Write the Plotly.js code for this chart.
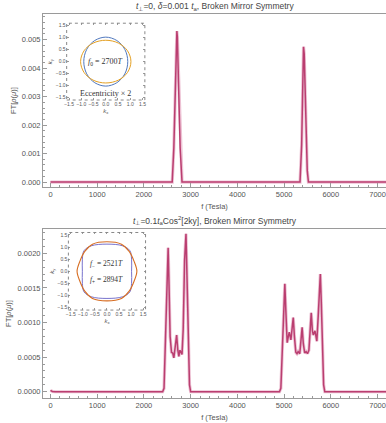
<!DOCTYPE html>
<html>
<head>
<meta charset="utf-8">
<script src="https://cdn.plot.ly/plotly-3.0.1.min.js"></script>
<style>
  body { margin: 0; background: #fff; }
  #chart { width: 386px; height: 423px; }
</style>
</head>
<body>
<div id="chart"></div>
<script>
// top panel: t_perp = 0 spectrum
var fTop = [0, 100, 2560, 2605, 2640, 2675, 2695, 2705, 2715, 2740, 2775, 2815,
            5310, 5340, 5375, 5400, 5415, 5430, 5460, 5495, 5520, 7180];
var ftTop = [0, 0, 0, 0, 0.0012, 0.0040, 0.0051, 0.0053, 0.0051, 0.0038, 0.0012, 0,
             0, 0, 0.0013, 0.0040, 0.00475, 0.0045, 0.0022, 0.0004, 0, 0];

// bottom panel: t_perp = 0.1 t Cos^2[2ky]
var fBot = [0, 40, 100, 2400, 2430, 2470, 2500, 2518, 2535, 2560, 2590, 2615, 2640,
            2665, 2700, 2725, 2747, 2770, 2790, 2815, 2840, 2870, 2900, 2925, 2950,
            2975, 3000, 4900, 4930, 4965, 4995, 5015, 5035, 5065, 5085, 5110, 5145,
            5165, 5195, 5220, 5250, 5275, 5300, 5335, 5360, 5385, 5410, 5440, 5470,
            5500, 5530, 5555, 5580, 5605, 5625, 5660, 5700, 5730, 5755, 5775, 5795,
            5820, 5845, 5870, 7180];
var ftBot = [0.00002, 0.000005, 0, 0, 0.00005, 0.0009, 0.0018, 0.00208, 0.0016, 0.0008,
             0.00057, 0.00056, 0.00049, 0.0006, 0.00082, 0.0006, 0.00051, 0.0006,
             0.00056, 0.00054, 0.0009, 0.0019, 0.00228, 0.0016, 0.0006, 0.0001, 0, 0,
             0.00005, 0.0006, 0.0013, 0.00156, 0.0012, 0.00071, 0.00078, 0.00086,
             0.00075, 0.0009, 0.00107, 0.0008, 0.00057, 0.00055, 0.00058, 0.00055,
             0.0007, 0.00093, 0.0007, 0.00056, 0.00058, 0.00055, 0.0006, 0.0009,
             0.00114, 0.00088, 0.00082, 0.00088, 0.00073, 0.0011, 0.00155, 0.0017,
             0.0013, 0.0006, 0.0001, 0, 0];

// inset 1: Fermi surfaces (eccentricity x 2)
var blue1X = [0.90, 0.78, 0.45, 0, -0.45, -0.78, -0.90, -0.78, -0.45, 0, 0.45, 0.78, 0.90];
var blue1Y = [0, 0.51, 0.88, 1.02, 0.88, 0.51, 0, -0.51, -0.88, -1.02, -0.88, -0.51, 0];
var orange1X = [1.03, 0.89, 0.52, 0, -0.52, -0.89, -1.03, -0.89, -0.52, 0, 0.52, 0.89, 1.03];
var orange1Y = [0, 0.45, 0.77, 0.89, 0.77, 0.45, 0, -0.45, -0.77, -0.89, -0.77, -0.45, 0];

// inset 2: warped Fermi surfaces
var blue2X = [1.02, 1.02, 0.95, 0.65, 0, -0.65, -0.95, -1.02, -1.02, -1.02, -0.95, -0.65, 0, 0.65, 0.95, 1.02, 1.02];
var blue2Y = [0, 0.5, 0.85, 1.05, 1.12, 1.05, 0.85, 0.5, 0, -0.5, -0.85, -1.05, -1.12, -1.05, -0.85, -0.5, 0];
var orange2X = [1.24, 1.12, 0.92, 0.6, 0, -0.6, -0.92, -1.12, -1.24, -1.12, -0.92, -0.6, 0, 0.6, 0.92, 1.12, 1.24];
var orange2Y = [0, 0.42, 0.82, 1.12, 1.22, 1.12, 0.82, 0.42, 0, -0.42, -0.82, -1.12, -1.22, -1.12, -0.82, -0.42, 0];

var insetTicks = [-1.5, -1.0, -0.5, 0.0, 0.5, 1.0, 1.5];

var lineColor = 'rgb(186,62,112)';
var haloColor = 'rgba(214,120,160,0.45)';
var grey = '#9a9a9a';

var data = [
  { x: fTop, y: ftTop, xaxis: 'x', yaxis: 'y', mode: 'lines', type: 'scatter',
    line: { color: haloColor, width: 3.2 } },
  { x: fTop, y: ftTop, xaxis: 'x', yaxis: 'y', mode: 'lines', type: 'scatter',
    line: { color: lineColor, width: 1.5 } },
  { x: fBot, y: ftBot, xaxis: 'x2', yaxis: 'y2', mode: 'lines', type: 'scatter',
    line: { color: haloColor, width: 3.2 } },
  { x: fBot, y: ftBot, xaxis: 'x2', yaxis: 'y2', mode: 'lines', type: 'scatter',
    line: { color: lineColor, width: 1.5 } },
  { x: blue1X, y: blue1Y, xaxis: 'x3', yaxis: 'y3', mode: 'lines', type: 'scatter',
    line: { color: 'rgb(80,120,190)', width: 1, shape: 'spline' } },
  { x: orange1X, y: orange1Y, xaxis: 'x3', yaxis: 'y3', mode: 'lines', type: 'scatter',
    line: { color: 'rgb(228,160,35)', width: 1, shape: 'spline' } },
  { x: blue2X, y: blue2Y, xaxis: 'x4', yaxis: 'y4', mode: 'lines', type: 'scatter',
    line: { color: 'rgb(120,115,205)', width: 1, shape: 'spline' } },
  { x: orange2X, y: orange2Y, xaxis: 'x4', yaxis: 'y4', mode: 'lines', type: 'scatter',
    line: { color: 'rgb(215,110,35)', width: 1.1, shape: 'spline' } }
];

function mainX(anchor) {
  return {
    anchor: anchor, domain: [0, 1], range: [-160, 7180],
    showline: true, mirror: true, linecolor: grey, linewidth: 1,
    ticks: 'inside', ticklen: 4, tickcolor: grey, dtick: 1000, tick0: 0,
    minor: { dtick: 200, ticks: 'inside', ticklen: 2, tickcolor: grey },
    tickfont: { size: 7.5, color: '#555' }, showgrid: false, zeroline: false,
    title: { text: 'f (Tesla)', font: { size: 7.5, color: '#555' }, standoff: 5 }
  };
}

function mainY(anchor, domain, range, dtick, minor, fmt) {
  return {
    anchor: anchor, domain: domain, range: range,
    showline: true, mirror: true, linecolor: grey, linewidth: 1,
    ticks: 'inside', ticklen: 4, tickcolor: grey, dtick: dtick, tick0: 0,
    tickformat: fmt,
    minor: { dtick: minor, ticks: 'inside', ticklen: 2, tickcolor: grey },
    tickfont: { size: 7.5, color: '#555' }, showgrid: false, zeroline: false,
    title: { text: 'FT[<i>ρ</i>(<i>μ</i>)]', font: { size: 7.5, color: '#555' }, standoff: 4 }
  };
}

function insetX(anchor, domain, label) {
  return {
    anchor: anchor, domain: domain, range: [-1.6, 1.6],
    tickvals: insetTicks, tickformat: '.1f', ticks: 'inside', ticklen: 2,
    tickcolor: grey, mirror: 'ticks', showline: false, showgrid: false, zeroline: false,
    tickangle: 0, tickfont: { size: 5, color: '#555' },
    title: { text: label, font: { size: 6, color: '#555' }, standoff: 2 }
  };
}

var layout = {
  width: 386, height: 423,
  margin: { l: 43, r: 0, t: 14, b: 25 },
  paper_bgcolor: '#fff', plot_bgcolor: '#fff',
  showlegend: false,
  font: { family: 'Liberation Sans, Arial, sans-serif', color: '#555' },
  xaxis: mainX('y'),
  yaxis: mainY('x', [0.549, 1], [-0.00018, 0.0059], 0.001, 0.0002, '.3f'),
  xaxis2: mainX('y2'),
  yaxis2: mainY('x2', [0, 0.44], [-0.00009, 0.00235], 0.0005, 0.0001, '.4f'),
  xaxis3: insetX('y3', [0.069, 0.297], '<i>k</i><sub>x</sub>'),
  yaxis3: insetX('x3', [0.776, 0.976], '<i>k</i><sub>y</sub>'),
  xaxis4: insetX('y4', [0.074, 0.299], '<i>k</i><sub>x</sub>'),
  yaxis4: insetX('x4', [0.229, 0.431], '<i>k</i><sub>y</sub>'),
  shapes: [
    { type: 'rect', xref: 'x3 domain', yref: 'y3 domain', x0: 0, x1: 1, y0: 0, y1: 1,
      line: { color: '#888', width: 1, dash: 'dot' } },
    { type: 'rect', xref: 'x4 domain', yref: 'y4 domain', x0: 0, x1: 1, y0: 0, y1: 1,
      line: { color: '#888', width: 1, dash: 'dot' } }
  ],
  annotations: [
    { text: '<i>t</i><sub>⊥</sub>=0, <i>δ</i>=0.001 <i>t</i><sub>a</sub>, Broken Mirror Symmetry',
      xref: 'paper', yref: 'paper', x: 0.5, y: 1, yanchor: 'bottom', yshift: 0,
      showarrow: false, font: { size: 8.5, color: '#444' } },
    { text: '<i>t</i><sub>⊥</sub>=0.1<i>t</i><sub>a</sub>Cos<sup>2</sup>[2ky], Broken Mirror Symmetry',
      xref: 'paper', yref: 'paper', x: 0.5, y: 0.44, yanchor: 'bottom', yshift: 1,
      showarrow: false, font: { size: 8.5, color: '#444' } },
    { text: '<i>f</i><sub>0</sub> = 2700<i>T</i>', xref: 'x3', yref: 'y3', x: 0, y: 0,
      showarrow: false, font: { family: 'Liberation Serif, serif', size: 8, color: '#333' } },
    { text: 'Eccentricity × 2', xref: 'x3', yref: 'y3', x: 0, y: -1.33,
      showarrow: false, font: { family: 'Liberation Serif, serif', size: 8, color: '#333' } },
    { text: '<i>f</i><sub>−</sub> = 2521<i>T</i>', xref: 'x4', yref: 'y4', x: 0, y: 0.28,
      showarrow: false, font: { family: 'Liberation Serif, serif', size: 7.5, color: '#333' } },
    { text: '<i>f</i><sub>+</sub> = 2894<i>T</i>', xref: 'x4', yref: 'y4', x: 0, y: -0.36,
      showarrow: false, font: { family: 'Liberation Serif, serif', size: 7.5, color: '#333' } }
  ]
};

Plotly.newPlot('chart', data, layout, { displayModeBar: false, staticPlot: true });
</script>
</body>
</html>
